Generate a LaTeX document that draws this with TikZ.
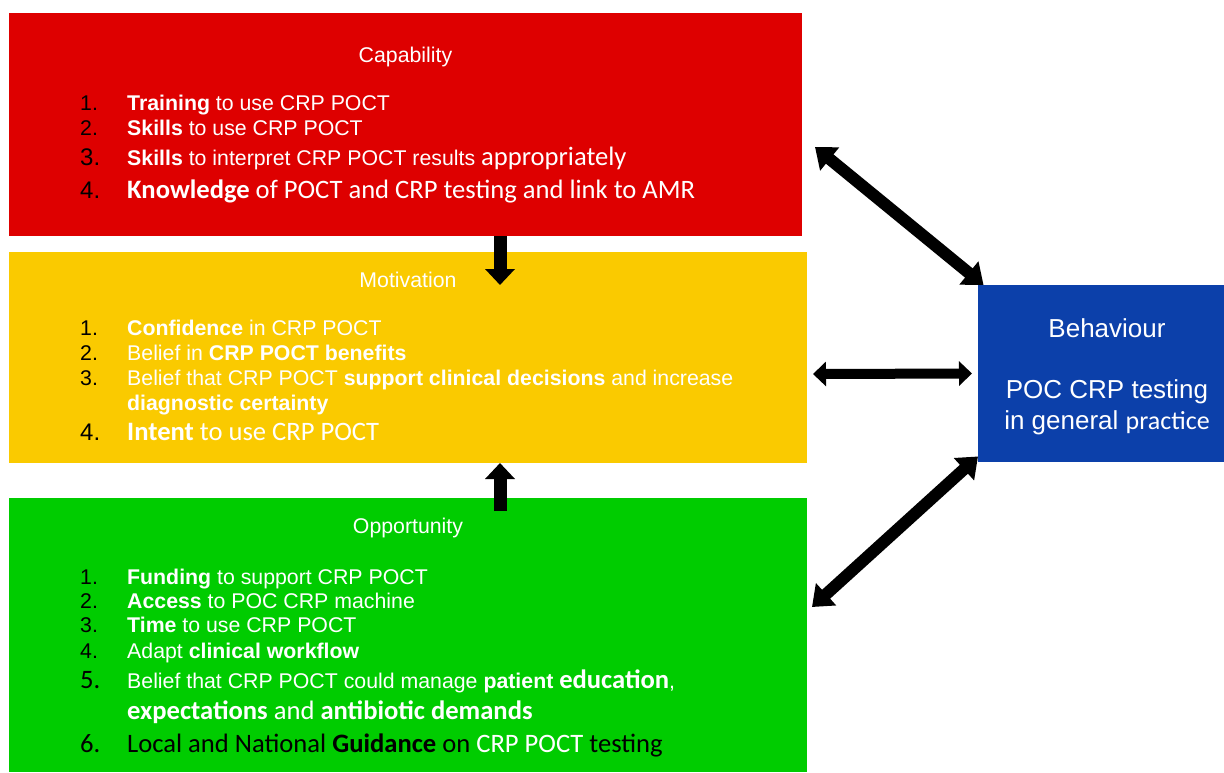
\documentclass[tikz,border=0pt]{standalone}
\usepackage{fontspec}
\setmainfont{Liberation Sans}
\newfontfamily\calibfont{Carlito}
\usetikzlibrary{arrows.meta}

\definecolor{comred}{RGB}{222,0,0}
\definecolor{comyellow}{RGB}{250,202,0}
\definecolor{comgreen}{RGB}{0,204,0}
\definecolor{comblue}{RGB}{12,64,170}

\newcommand{\arialsz}{\fontsize{21.3}{24}\selectfont}
\newcommand{\bignum}{\fontsize{24}{28}\selectfont}
\newcommand{\calsz}{\calibfont\fontsize{26.6}{30}\selectfont}
\newcommand{\behsz}{\fontsize{26}{30}\selectfont}

\tikzset{
  combox/.style={inner sep=0pt, outer sep=0pt},
  boxtitle/.style={text=white, inner sep=0pt, anchor=base, font=\arialsz},
  numtxt/.style={text=black, inner sep=0pt, anchor=base west, font=\arialsz},
  itemtxt/.style={text=white, inner sep=0pt, anchor=base west, font=\arialsz},
  behtxt/.style={text=white, inner sep=0pt, anchor=base, font=\behsz},
  blockarr/.style={line width=13pt, -{Triangle[length=16pt,width=29pt]}},
  dblarr/.style={line width=12pt, {Triangle[length=19pt,width=29pt]}-{Triangle[length=19pt,width=29pt]}},
}

\begin{document}
\begin{tikzpicture}[x=1pt,y=1pt,yscale=-1,xscale=1]
\useasboundingbox (0,0) rectangle (1224,772);

%Shape: Rectangle
\node[combox, fill=comred, minimum width=793, minimum height=223] (capbox) at (405.5,124.5) {};
%Shape: Rectangle
\node[combox, fill=comyellow, minimum width=798, minimum height=211] (motbox) at (408,357.5) {};
%Shape: Rectangle
\node[combox, fill=comgreen, minimum width=798, minimum height=274] (oppbox) at (408,635) {};
%Shape: Rectangle
\node[combox, fill=comblue, minimum width=246, minimum height=177] (behbox) at (1101,373.5) {};

%Straight Lines
\coordinate (downtip) at (500,285);
\draw[blockarr] (capbox.south -| downtip) -- (downtip);

%Straight Lines
\coordinate (uptail) at (500,511);
\draw[blockarr] (uptail) -- (motbox.south -| uptail);

%Straight Lines
\coordinate (capend) at (815,147);
\draw[dblarr] (capend) -- (behbox.143);

%Straight Lines
\coordinate (motend) at (813,374);
\draw[dblarr, line width=10pt, {Triangle[length=13pt,width=24pt]}-{Triangle[length=13pt,width=24pt]}] (motend) -- ([xshift=-6pt]behbox.west);

%Straight Lines
\coordinate (oppend) at (812,607);
\draw[dblarr] (oppend) -- (behbox.214);

% Text Node
\node[boxtitle] (captitle) at (405.5,62) {Capability};
\node[numtxt] (cap1n) at (80,110.5) {1.};
\node[itemtxt] (cap1) at (127,110.5) {\textbf{Training} to use CRP POCT};
\node[numtxt] (cap2n) at (80,135) {2.};
\node[itemtxt] (cap2) at (127,135) {\textbf{Skills} to use CRP POCT};
\node[numtxt, font=\bignum] (cap3n) at (80,165.5) {3.};
\node[itemtxt] (cap3) at (127,165.5) {\textbf{Skills} to interpret CRP POCT results {\calsz appropriately}};
\node[numtxt, font=\bignum] (cap4n) at (80,198) {4.};
\node[itemtxt, font=\calsz] (cap4) at (127,198) {\textbf{Knowledge} of POCT and CRP testing and link to AMR};

% Text Node
\node[boxtitle] (mottitle) at (408,287) {Motivation};
\node[numtxt] (mot1n) at (80,335) {1.};
\node[itemtxt] (mot1) at (127,335) {\textbf{Confidence} in CRP POCT};
\node[numtxt] (mot2n) at (80,360) {2.};
\node[itemtxt] (mot2) at (127,360) {Belief in \textbf{CRP POCT benefits}};
\node[numtxt] (mot3n) at (80,385) {3.};
\node[itemtxt] (mot3) at (127,385) {Belief that CRP POCT \textbf{support clinical decisions} and increase};
\node[itemtxt] (mot3b) at (127,410) {\textbf{diagnostic certainty}};
\node[numtxt, font=\bignum] (mot4n) at (80,440) {4.};
\node[itemtxt, font=\calsz] (mot4) at (127,440) {\textbf{Intent} to use CRP POCT};

% Text Node
\node[boxtitle] (opptitle) at (408,533) {Opportunity};
\node[numtxt] (opp1n) at (80,584) {1.};
\node[itemtxt] (opp1) at (127,584) {\textbf{Funding} to support CRP POCT};
\node[numtxt] (opp2n) at (80,608) {2.};
\node[itemtxt] (opp2) at (127,608) {\textbf{Access} to POC CRP machine};
\node[numtxt] (opp3n) at (80,632) {3.};
\node[itemtxt] (opp3) at (127,632) {\textbf{Time} to use CRP POCT};
\node[numtxt] (opp4n) at (80,658) {4.};
\node[itemtxt] (opp4) at (127,658) {Adapt \textbf{clinical workflow}};
\node[numtxt, font=\calsz] (opp5n) at (80,688) {5.};
\node[itemtxt] (opp5) at (127,688) {Belief that CRP POCT could manage \textbf{patient {\calsz education}},};
\node[itemtxt, font=\calsz] (opp5b) at (127,719) {\textbf{expectations} and \textbf{antibiotic demands}};
\node[numtxt, font=\calsz] (opp6n) at (80,752) {6.};
\node[numtxt, font=\calsz] (opp6) at (127,752) {Local and National \textbf{Guidance} on \textcolor{white}{CRP POCT} testing};

% Text Node
\node[behtxt] (behtitle) at (1107,337) {Behaviour};
\node[behtxt] (behline1) at (1107,398) {POC CRP testing};
\node[behtxt] (behline2) at (1107,429) {in general {\calibfont practice}};

\end{tikzpicture}
\end{document}
